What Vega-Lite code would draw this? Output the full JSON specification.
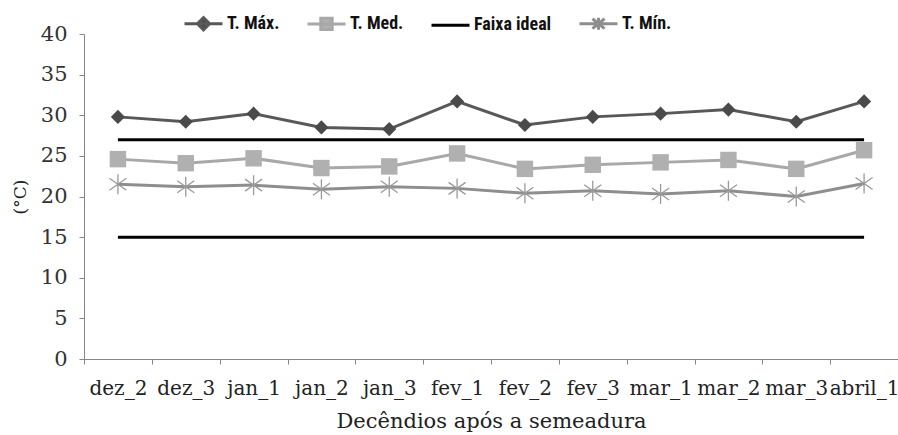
{
  "$schema": "https://vega.github.io/schema/vega-lite/v6.json",
  "width": 814,
  "height": 325,
  "autosize": {"type": "none"},
  "padding": {"left": 84, "top": 34, "right": 0, "bottom": 76},
  "background": "white",
  "config": {"view": {"stroke": null}},
  "data": {
    "values": [
      {"d": "dez_2", "serie": "T. Máx.", "linha": "max", "v": 29.8},
      {"d": "dez_3", "serie": "T. Máx.", "linha": "max", "v": 29.2},
      {"d": "jan_1", "serie": "T. Máx.", "linha": "max", "v": 30.2},
      {"d": "jan_2", "serie": "T. Máx.", "linha": "max", "v": 28.5},
      {"d": "jan_3", "serie": "T. Máx.", "linha": "max", "v": 28.3},
      {"d": "fev_1", "serie": "T. Máx.", "linha": "max", "v": 31.7},
      {"d": "fev_2", "serie": "T. Máx.", "linha": "max", "v": 28.8},
      {"d": "fev_3", "serie": "T. Máx.", "linha": "max", "v": 29.8},
      {"d": "mar_1", "serie": "T. Máx.", "linha": "max", "v": 30.2},
      {"d": "mar_2", "serie": "T. Máx.", "linha": "max", "v": 30.7},
      {"d": "mar_3", "serie": "T. Máx.", "linha": "max", "v": 29.2},
      {"d": "abril_1", "serie": "T. Máx.", "linha": "max", "v": 31.7},
      {"d": "dez_2", "serie": "T. Med.", "linha": "med", "v": 24.6},
      {"d": "dez_3", "serie": "T. Med.", "linha": "med", "v": 24.1},
      {"d": "jan_1", "serie": "T. Med.", "linha": "med", "v": 24.7},
      {"d": "jan_2", "serie": "T. Med.", "linha": "med", "v": 23.5},
      {"d": "jan_3", "serie": "T. Med.", "linha": "med", "v": 23.7},
      {"d": "fev_1", "serie": "T. Med.", "linha": "med", "v": 25.3},
      {"d": "fev_2", "serie": "T. Med.", "linha": "med", "v": 23.4},
      {"d": "fev_3", "serie": "T. Med.", "linha": "med", "v": 23.9},
      {"d": "mar_1", "serie": "T. Med.", "linha": "med", "v": 24.2},
      {"d": "mar_2", "serie": "T. Med.", "linha": "med", "v": 24.5},
      {"d": "mar_3", "serie": "T. Med.", "linha": "med", "v": 23.4},
      {"d": "abril_1", "serie": "T. Med.", "linha": "med", "v": 25.7},
      {"d": "dez_2", "serie": "T. Mín.", "linha": "min", "v": 21.5},
      {"d": "dez_3", "serie": "T. Mín.", "linha": "min", "v": 21.2},
      {"d": "jan_1", "serie": "T. Mín.", "linha": "min", "v": 21.4},
      {"d": "jan_2", "serie": "T. Mín.", "linha": "min", "v": 20.9},
      {"d": "jan_3", "serie": "T. Mín.", "linha": "min", "v": 21.2},
      {"d": "fev_1", "serie": "T. Mín.", "linha": "min", "v": 21.0},
      {"d": "fev_2", "serie": "T. Mín.", "linha": "min", "v": 20.4},
      {"d": "fev_3", "serie": "T. Mín.", "linha": "min", "v": 20.7},
      {"d": "mar_1", "serie": "T. Mín.", "linha": "min", "v": 20.3},
      {"d": "mar_2", "serie": "T. Mín.", "linha": "min", "v": 20.7},
      {"d": "mar_3", "serie": "T. Mín.", "linha": "min", "v": 20.0},
      {"d": "abril_1", "serie": "T. Mín.", "linha": "min", "v": 21.6},
      {"d": "dez_2", "serie": "Faixa ideal", "linha": "sup", "v": 27},
      {"d": "abril_1", "serie": "Faixa ideal", "linha": "sup", "v": 27},
      {"d": "dez_2", "serie": "Faixa ideal", "linha": "inf", "v": 15},
      {"d": "abril_1", "serie": "Faixa ideal", "linha": "inf", "v": 15}
    ]
  },
  "encoding": {
    "x": {
      "field": "d",
      "type": "nominal",
      "sort": ["dez_2", "dez_3", "jan_1", "jan_2", "jan_3", "fev_1", "fev_2", "fev_3", "mar_1", "mar_2", "mar_3", "abril_1"],
      "scale": {"type": "band", "paddingInner": 0, "paddingOuter": 0},
      "axis": {
        "title": "Decêndios após a semeadura",
        "titleFont": "DejaVu Serif",
        "titleFontSize": 21,
        "titleFontWeight": "normal",
        "titleColor": "#222",
        "titlePadding": 12,
        "labelFont": "DejaVu Serif",
        "labelFontSize": 20,
        "labelColor": "#222",
        "labelAngle": 0,
        "labelPadding": 14,
        "labelOverlap": false,
        "labelBound": false,
        "tickBand": "extent",
        "tickSize": 5,
        "tickColor": "#868686",
        "domainColor": "#868686",
        "grid": false
      }
    },
    "y": {
      "field": "v",
      "type": "quantitative",
      "scale": {"domain": [0, 40], "nice": false},
      "axis": {
        "title": "(°C)",
        "titleFont": "DejaVu Serif",
        "titleFontSize": 17,
        "titleFontWeight": "normal",
        "titleColor": "#222",
        "titlePadding": 11,
        "values": [0, 5, 10, 15, 20, 25, 30, 35, 40],
        "labelFont": "DejaVu Serif",
        "labelFontSize": 21,
        "labelColor": "#333",
        "labelPadding": 12,
        "tickSize": 5,
        "tickColor": "#868686",
        "domainColor": "#868686",
        "grid": false
      }
    }
  },
  "layer": [
    {
      "mark": {"type": "line", "strokeWidth": 3},
      "encoding": {
        "color": {
          "field": "serie",
          "type": "nominal",
          "scale": {
            "domain": ["T. Máx.", "T. Med.", "Faixa ideal", "T. Mín."],
            "range": ["#585858", "#a8a8a8", "#000000", "#8e8e8e"]
          },
          "legend": {
            "title": null,
            "orient": "none",
            "legendX": 99,
            "legendY": -31,
            "direction": "horizontal",
            "columns": 4,
            "columnPadding": 21,
            "symbolSize": 1444,
            "symbolStrokeWidth": 3,
            "labelOffset": 3,
            "labelFont": "Liberation Sans Narrow, Roboto Condensed, Roboto",
            "labelFontSize": 18,
            "labelFontWeight": "bold",
            "labelColor": "#111",
            "labelLimit": 200,
            "encode": {
              "symbols": {
                "update": {
                  "shape": {"signal": "datum.value === 'T. Máx.' ? 'M-1,0L1,0M0,-0.32L0.32,0L0,0.32L-0.32,0Z' : datum.value === 'T. Med.' ? 'M-1,0L1,0M-0.3,-0.3L0.3,-0.3L0.3,0.3L-0.3,0.3Z' : datum.value === 'T. Mín.' ? 'M-1,0L1,0M0,-0.32L0,0.32M-0.32,-0.26L0.32,0.26M-0.32,0.26L0.32,-0.26' : 'M-1,0L1,0'"},
                  "fill": {"signal": "datum.value === 'T. Máx.' ? '#4a4a4a' : datum.value === 'T. Med.' ? '#b0b0b0' : 'transparent'"},
                  "strokeWidth": {"value": 3}
                }
              }
            }
          }
        },
        "detail": {"field": "linha"}
      }
    },
    {
      "transform": [{"filter": "datum.linha === 'max'"}],
      "mark": {"type": "point", "shape": "diamond", "filled": true, "size": 200, "color": "#4a4a4a", "opacity": 1}
    },
    {
      "transform": [{"filter": "datum.linha === 'med'"}],
      "mark": {"type": "point", "shape": "square", "filled": true, "size": 270, "color": "#b0b0b0", "opacity": 1}
    },
    {
      "transform": [{"filter": "datum.linha === 'min'"}],
      "mark": {"type": "point", "shape": "M0,-1L0,1M-0.85,-0.6L0.85,0.6M-0.85,0.6L0.85,-0.6", "filled": false, "size": 400, "stroke": "#9a9a9a", "strokeWidth": 1.3, "opacity": 1}
    }
  ]
}
